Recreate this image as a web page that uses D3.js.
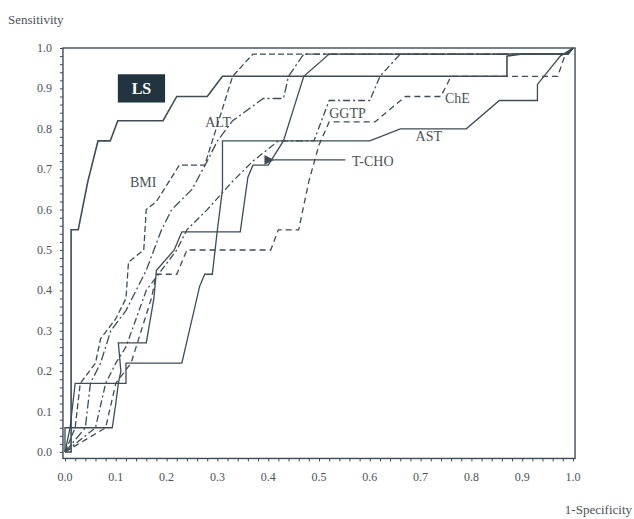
<!DOCTYPE html>
<html>
<head>
<meta charset="utf-8">
<script src="https://cdn.jsdelivr.net/npm/d3@7"></script>
<style>
  body { margin: 0; background: #fff; }
  svg text { font-family: "Liberation Serif", "DejaVu Serif", serif; fill: #4a5258; }
</style>
</head>
<body>
<svg id="chart" width="634" height="519"></svg>
<script>
// ROC curves, [1-specificity, sensitivity]
const lsCurve = [[0,0],[0.012,0],[0.012,0.55],[0.026,0.55],[0.045,0.67],[0.065,0.77],[0.089,0.77],[0.104,0.82],[0.193,0.82],[0.22,0.88],[0.28,0.88],[0.31,0.93],[0.87,0.93],[0.87,0.98],[0.9,0.985],[0.99,0.985],[1,1]];
const astCurve = [[0,0],[0.01,0.06],[0.02,0.17],[0.12,0.17],[0.12,0.22],[0.23,0.22],[0.265,0.41],[0.275,0.44],[0.29,0.44],[0.3,0.55],[0.31,0.65],[0.31,0.77],[0.6,0.77],[0.66,0.8],[0.79,0.8],[0.855,0.87],[0.93,0.87],[0.93,0.91],[0.975,0.98],[1,1]];
const tchoCurve = [[0,0],[0,0.06],[0.093,0.06],[0.1,0.12],[0.105,0.17],[0.11,0.2],[0.105,0.27],[0.16,0.27],[0.175,0.38],[0.18,0.45],[0.215,0.5],[0.23,0.545],[0.345,0.545],[0.36,0.68],[0.37,0.71],[0.4,0.71],[0.43,0.77],[0.45,0.85],[0.47,0.93],[0.52,0.985],[0.99,0.985],[1,1]];
const altCurve = [[0,0],[0.04,0.06],[0.05,0.17],[0.07,0.22],[0.09,0.3],[0.12,0.35],[0.14,0.4],[0.16,0.45],[0.19,0.55],[0.21,0.6],[0.25,0.65],[0.28,0.72],[0.3,0.77],[0.33,0.82],[0.39,0.875],[0.43,0.875],[0.44,0.93],[0.47,0.985],[0.99,0.985],[1,1]];
const bmiCurve = [[0,0],[0.02,0.06],[0.03,0.17],[0.06,0.22],[0.07,0.28],[0.1,0.33],[0.12,0.38],[0.125,0.47],[0.155,0.5],[0.16,0.6],[0.18,0.62],[0.2,0.66],[0.225,0.71],[0.275,0.71],[0.29,0.77],[0.31,0.85],[0.33,0.93],[0.37,0.985],[0.99,0.985],[1,1]];
const ggtpCurve = [[0,0],[0.06,0.06],[0.08,0.17],[0.1,0.22],[0.12,0.26],[0.14,0.33],[0.16,0.4],[0.19,0.45],[0.22,0.5],[0.24,0.55],[0.28,0.6],[0.33,0.67],[0.37,0.72],[0.42,0.77],[0.49,0.77],[0.52,0.87],[0.6,0.87],[0.62,0.93],[0.66,0.985],[0.99,0.985],[1,1]];
const cheCurve = [[0,0],[0.08,0.06],[0.1,0.17],[0.13,0.22],[0.15,0.3],[0.17,0.38],[0.18,0.44],[0.22,0.44],[0.24,0.5],[0.405,0.5],[0.42,0.55],[0.46,0.55],[0.48,0.67],[0.5,0.76],[0.52,0.817],[0.61,0.817],[0.67,0.88],[0.74,0.88],[0.76,0.93],[0.97,0.93],[0.985,0.985],[1,1]];

const tickValues = d3.range(0, 11).map(i => i / 10);
const tickLabels = ["0.0","0.1","0.2","0.3","0.4","0.5","0.6","0.7","0.8","0.9","1.0"];

const curveNames = ["LS", "AST", "T-CHO", "ALT", "BMI", "GGTP", "ChE"];
const curveData = [lsCurve, astCurve, tchoCurve, altCurve, bmiCurve, ggtpCurve, cheCurve];
const curveDash = [null, null, null, "9,3,2,3", "6,3", "7,3,2,3", "6,4"];

// label anchors (data units)
const labelPos = { ALT: [0.276, 0.817], BMI: [0.128, 0.668], GGTP: [0.52, 0.84], ChE: [0.748, 0.876], AST: [0.69, 0.782], "T-CHO": [0.565, 0.72] };

const ink = "#3d4c56";
const svg = d3.select("#chart");

const x = d3.scaleLinear().domain([0, 1]).range([65, 573]);
const y = d3.scaleLinear().domain([0, 1]).range([452, 48]);

// frame
svg.append("rect")
  .attr("x", x(-0.004)).attr("y", y(1.0))
  .attr("width", x(1.004) - x(-0.004)).attr("height", y(-0.016) - y(1.0))
  .attr("fill", "none").attr("stroke", ink).attr("stroke-width", 1.4);

// axes with minor ticks
const yAxis = d3.axisLeft(y).tickValues(d3.range(0, 51).map(i => i / 50)).tickSize(3).tickFormat("");
svg.append("g").attr("transform", `translate(${x(-0.004)},0)`).call(yAxis)
  .call(g => g.select(".domain").remove())
  .call(g => g.selectAll("line").attr("stroke", ink));
const xAxis = d3.axisBottom(x).tickValues(d3.range(0, 51).map(i => i / 50)).tickSize(3).tickFormat("");
svg.append("g").attr("transform", `translate(0,${y(-0.016)})`).call(xAxis)
  .call(g => g.select(".domain").remove())
  .call(g => g.selectAll("line").attr("stroke", ink));

// tick labels
svg.append("g").selectAll("text").data(tickValues).join("text")
  .attr("x", 52).attr("y", d => y(d) + 4)
  .attr("text-anchor", "end").attr("font-size", 12)
  .text((d, i) => tickLabels[i]);
svg.append("g").selectAll("text").data(tickValues).join("text")
  .attr("x", d => x(d)).attr("y", 481)
  .attr("text-anchor", "middle").attr("font-size", 12)
  .text((d, i) => tickLabels[i]);

svg.append("text").attr("x", 8).attr("y", 24).attr("font-size", 13).text("Sensitivity");
svg.append("text").attr("x", 632).attr("y", 514).attr("text-anchor", "end").attr("font-size", 13).text("1-Specificity");

// curves
const line = d3.line().x(d => x(d[0])).y(d => y(d[1]));
svg.append("g").selectAll("path").data(curveData).join("path")
  .attr("d", line)
  .attr("fill", "none")
  .attr("stroke", ink)
  .attr("stroke-width", (d, i) => i === 0 ? 1.6 : 1.3)
  .attr("stroke-dasharray", (d, i) => curveDash[i]);

// LS label box
svg.append("rect")
  .attr("x", x(0.104)).attr("y", y(0.935))
  .attr("width", x(0.197) - x(0.104)).attr("height", y(0.865) - y(0.935))
  .attr("fill", "#22343f");
svg.append("text")
  .attr("x", (x(0.104) + x(0.197)) / 2).attr("y", y(0.9) + 6)
  .attr("text-anchor", "middle").attr("font-size", 16).attr("font-weight", "bold")
  .attr("font-family", "DejaVu Sans, sans-serif")
  .style("fill", "#fff").text("LS");

// other labels
svg.append("g").selectAll("text").data(curveNames.slice(1)).join("text")
  .attr("x", d => x(labelPos[d][0])).attr("y", d => y(labelPos[d][1]) + 5)
  .attr("font-size", 14).text(d => d);

// arrow to T-CHO
svg.append("defs").append("marker")
  .attr("id", "head").attr("viewBox", "0 0 10 10").attr("refX", 1).attr("refY", 5)
  .attr("markerWidth", 9).attr("markerHeight", 7).attr("orient", "auto-start-reverse")
  .append("path").attr("d", "M0,5 L10,0 L10,10 Z").attr("fill", ink);
svg.append("line")
  .attr("x1", x(0.552)).attr("y1", y(0.723))
  .attr("x2", x(0.41)).attr("y2", y(0.723))
  .attr("stroke", ink).attr("stroke-width", 1.4)
  .attr("marker-end", "url(#head)");
</script>
</body>
</html>
